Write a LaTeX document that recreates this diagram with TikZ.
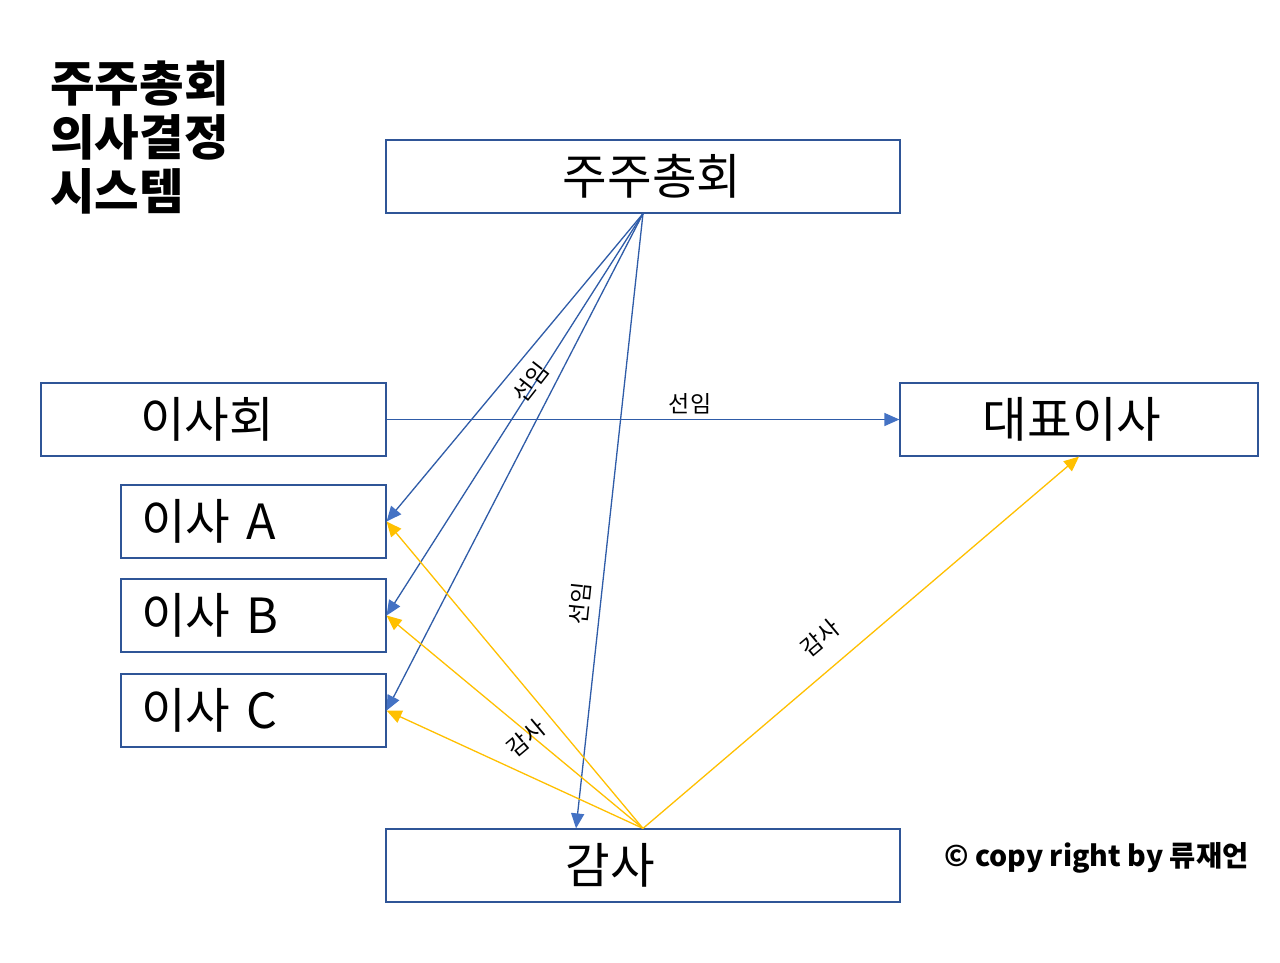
\documentclass[tikz,border=0pt]{standalone}
\usepackage{fontspec}
\setmainfont{Noto Sans CJK KR}
\usetikzlibrary{arrows.meta,calc}
\definecolor{boxblue}{HTML}{2F5597}
\definecolor{lineblue}{HTML}{2F5CA8}
\definecolor{tipblue}{HTML}{4472C4}
\definecolor{gold}{HTML}{FFC000}
\begin{document}
\begin{tikzpicture}[x=1pt,y=-1pt,
  box/.style={draw=boxblue, line width=1.2pt, minimum height=73pt, inner sep=0pt,
    font=\fontsize{48.5}{54}\selectfont},
  dirbox/.style={box, minimum width=265pt, text width=225pt, inner xsep=20pt, align=left},
  elect/.style={draw=lineblue, line width=1.3pt, -{Triangle[length=15pt,width=13pt,color=tipblue]}},
  audit/.style={draw=gold, line width=1.3pt, -{Triangle[length=15pt,width=13pt]}},
  lbl/.style={font=\fontsize{23}{26}\selectfont, inner sep=0pt}
]
\fill[white] (0,0) rectangle (1280,962);
\useasboundingbox (0,0) rectangle (1280,962);

\node[anchor=base west, align=left, inner sep=0pt,
  font=\fontsize{48.5}{54}\selectfont\bfseries] (title) at (50,209) {주주총회\\의사결정\\시스템};

\node[box, minimum width=514pt] (gm) at (643,176.5) {\hspace*{18pt}주주총회};
\node[box, minimum width=345pt] (ish) at (213.5,419.5) {\hspace*{-13pt}이사회};
\node[box, minimum width=358pt] (ceo) at (1079,419.5) {\hspace*{-14pt}대표이사};
\node[dirbox] (da) at (253.5,521.5) {이사 A};
\node[dirbox] (db) at (253.5,615.5) {이사 B};
\node[dirbox] (dc) at (253.5,710.5) {이사 C};
\node[box, minimum width=514pt] (gs) at (643,865.5) {\hspace*{-66pt}감사};

\coordinate (gsin) at ($(gs.north west)!0.37!(gs.north east)$);

\draw[elect] (gm.south) -- (da.east);
\draw[elect] (gm.south) -- (db.east);
\draw[elect] (gm.south) -- (dc.east);
\draw[elect] (gm.south) -- (gsin);
\draw[elect] (ish.east) -- (ceo.west);

\draw[audit] (gs.north) -- (da.east);
\draw[audit] (gs.north) -- (db.east);
\draw[audit] (gs.north) -- (dc.east);
\draw[audit] (gs.north) -- (ceo.south);

\node[lbl] (l1) at (690,404) {선임};
\node[lbl, rotate=52] (l2) at (531,382) {선임};
\node[lbl, rotate=84] (l3) at (580,604) {선임};
\node[lbl, rotate=40] (l4) at (526,738) {감사};
\node[lbl, rotate=40] (l5) at (820,638) {감사};

\node[anchor=west, inner sep=0pt, font=\fontsize{28.5}{32}\selectfont\bfseries] (copy) at (944,858) {© copy right by 류재언};
\end{tikzpicture}
\end{document}
